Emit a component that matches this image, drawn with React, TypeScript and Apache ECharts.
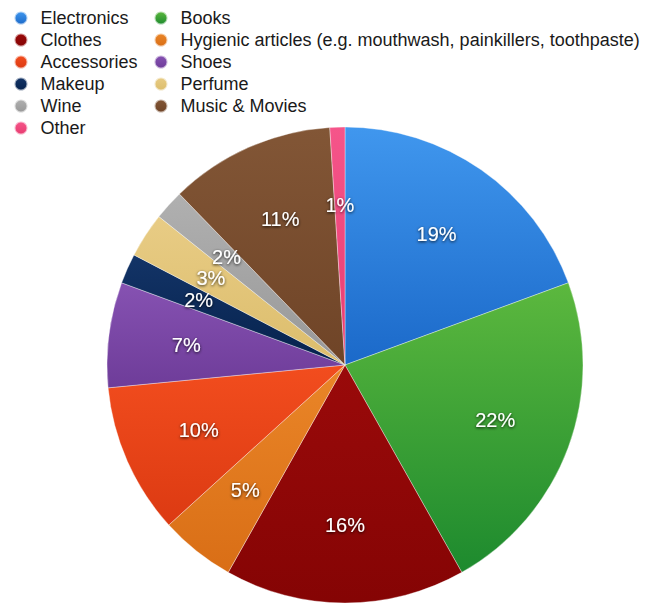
import React, { useEffect, useRef } from "react";
import * as echarts from "echarts";

const categories = [
  "Electronics",
  "Books",
  "Clothes",
  "Hygienic articles (e.g. mouthwash, painkillers, toothpaste)",
  "Accessories",
  "Shoes",
  "Makeup",
  "Perfume",
  "Wine",
  "Music & Movies",
  "Other",
];
const values = [19, 22, 16, 5, 10, 7, 2, 3, 2, 11, 1];
const topColors = ["#4097ee", "#5cb83e", "#9a0a0a", "#ea8628", "#f24d1e", "#8652b2", "#133467", "#e8cc85", "#b0b0b0", "#825636", "#f5558a"];
const bottomColors = ["#1b69c9", "#1d8a2e", "#850404", "#d96e16", "#dc3a12", "#6e3c99", "#06224d", "#dcbd6c", "#989898", "#6f4427", "#e83c70"];
const leftLegend = ["Electronics", "Clothes", "Accessories", "Makeup", "Wine", "Other"];
const rightLegend = [
  "Books",
  "Hygienic articles (e.g. mouthwash, painkillers, toothpaste)",
  "Shoes",
  "Perfume",
  "Music & Movies",
];

export default function App() {
  const ref = useRef<HTMLDivElement>(null);
  useEffect(() => {
    document.body.style.margin = "0";
    if (!ref.current) return;
    const chart = echarts.init(ref.current, null, { renderer: "svg" });
    const data = categories.map((name, i) => ({
      name,
      value: values[i],
      itemStyle: {
        color: new echarts.graphic.LinearGradient(0, 0, 0, 1, [
          { offset: 0, color: topColors[i] },
          { offset: 1, color: bottomColors[i] },
        ]),
      },
    }));
    const legendCommon = {
      orient: "vertical" as const,
      top: 7,
      padding: 0,
      itemGap: 0,
      itemWidth: 13,
      itemHeight: 13,
      icon: "circle",
      selectedMode: false,
      textStyle: {
        fontFamily: "Liberation Sans, Arial, sans-serif",
        fontSize: 18,
        color: "#1a1a1a",
        lineHeight: 22,
        padding: [0, 0, 0, 8],
      },
    };
    chart.setOption({
      animation: false,
      color: bottomColors,
      legend: [
        { ...legendCommon, left: 13.5, data: leftLegend },
        { ...legendCommon, left: 153.5, data: rightLegend },
      ],
      series: [
        {
          type: "pie",
          center: [345, 365],
          radius: [0, 238],
          startAngle: 90,
          clockwise: true,
          label: { show: false },
          labelLine: { show: false },
          itemStyle: { borderColor: "rgba(255,255,255,0.6)", borderWidth: 0.6 },
          emphasis: { disabled: true },
          data,
        },
        {
          type: "pie",
          center: [345, 365],
          radius: [76, 238],
          startAngle: 90,
          clockwise: true,
          silent: true,
          itemStyle: { color: "transparent" },
          label: {
            show: true,
            position: "inside",
            formatter: (p: any) => `${p.value}%`,
            color: "#ffffff",
            fontFamily: "Liberation Sans, Arial, sans-serif",
            fontSize: 20,
            textShadowColor: "rgba(0,0,0,0.85)",
            textShadowBlur: 3,
            textShadowOffsetX: 0,
            textShadowOffsetY: 1,
          },
          labelLine: { show: false },
          emphasis: { disabled: true },
          data: categories.map((name, i) => ({ name: name + " ", value: values[i] })),
        },
      ],
    });
    return () => chart.dispose();
  }, []);
  return <div ref={ref} style={{ width: 646, height: 603 }} />;
}
